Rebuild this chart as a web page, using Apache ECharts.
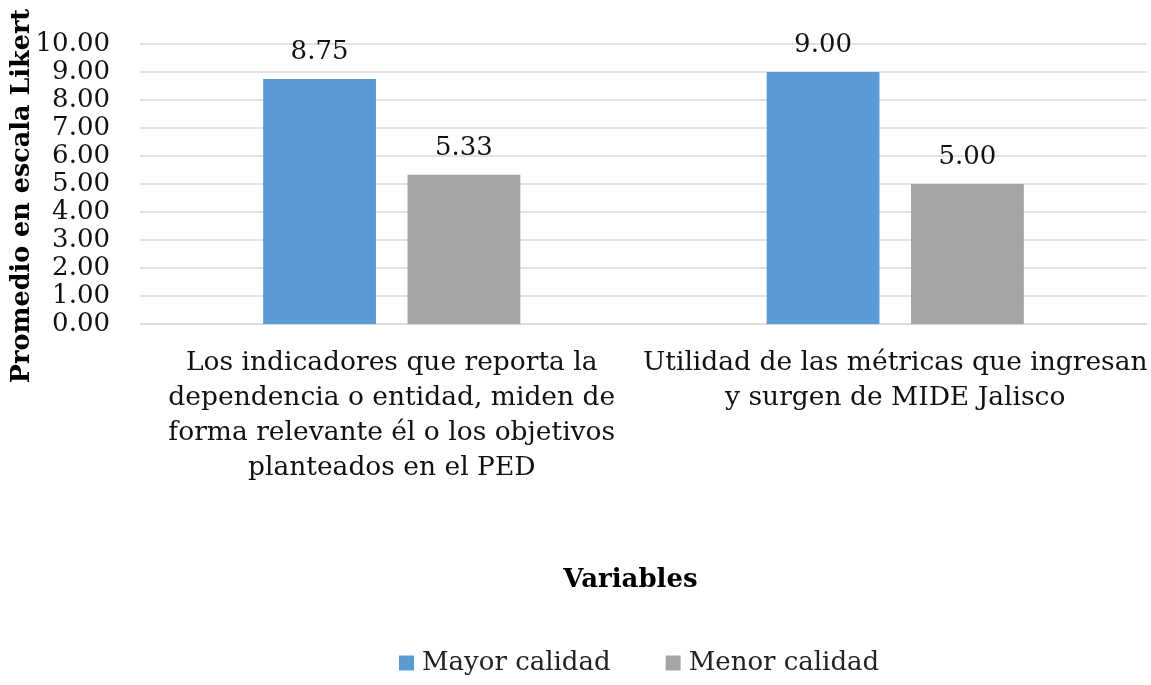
<!DOCTYPE html>
<html>
<head>
<meta charset="utf-8">
<script src="https://cdn.jsdelivr.net/npm/echarts@6/dist/echarts.min.js"></script>
<style>
  html, body { margin: 0; padding: 0; background: #fff; }
  #chart { width: 1151px; height: 685px; }
</style>
</head>
<body>
<div id="chart"></div>
<script>
// categories (line breaks as in the original labels)
var categories = [
  'Los indicadores que reporta la\ndependencia o entidad, miden de\nforma relevante él o los objetivos\nplanteados en el PED',
  'Utilidad de las métricas que ingresan\ny surgen de MIDE Jalisco'
]
var mayorCalidad = [8.75, 9.00]
var menorCalidad = [5.33, 5.00]
var seriesNames = ['Mayor calidad', 'Menor calidad']
var yTitle = 'Promedio en escala Likert'

var font = 'DejaVu Serif'
var chart = echarts.init(document.getElementById('chart'))

chart.setOption({
  animation: false,
  textStyle: { fontFamily: font, color: '#000' },
  grid: { left: 140, right: 4, top: 44, bottom: 361, outerBoundsMode: 'none', containLabel: false },
  // y axis title drawn as rotated text, axis name kept getting pushed to the edge
  graphic: [{
    type: 'text',
    x: 22,
    y: 196,
    rotation: Math.PI / 2,
    style: {
      text: yTitle,
      font: 'bold 25.5px "DejaVu Serif"',
      fill: '#000',
      align: 'center',
      verticalAlign: 'middle'
    }
  }],
  legend: {
    data: seriesNames,
    bottom: 4,
    left: 394,
    itemWidth: 15,
    itemHeight: 15,
    itemGap: 55,
    icon: 'rect',
    textStyle: { fontFamily: font, fontSize: 26, color: '#222', padding: [0, 0, 0, 3] }
  },
  xAxis: {
    type: 'category',
    data: categories,
    name: 'Variables',
    nameLocation: 'middle',
    nameGap: 243,
    nameMoveOverlap: false,
    nameTextStyle: { fontFamily: font, fontSize: 26, fontWeight: 'bold', color: '#000', padding: [0, 26, 0, 0] },
    axisLine: { lineStyle: { color: '#d9d9d9' } },
    axisTick: { show: false },
    axisLabel: {
      interval: 0,
      margin: 22,
      fontSize: 26.5,
      lineHeight: 35,
      color: '#111',
      fontFamily: font
    }
  },
  yAxis: {
    type: 'value',
    min: 0,
    max: 10,
    interval: 1,
    axisLine: { show: false },
    axisTick: { show: false },
    splitLine: { lineStyle: { color: '#d9d9d9', width: 1.5 } },
    axisLabel: {
      margin: 30,
      fontSize: 26,
      color: '#111',
      fontFamily: font,
      formatter: function (v) { return v.toFixed(2) }
    }
  },
  series: [
    {
      name: seriesNames[0],
      type: 'bar',
      data: mayorCalidad,
      barWidth: '22.4%',
      barGap: '28%',
      itemStyle: { color: '#5b9bd5' },
      label: {
        show: true, position: 'top', distance: 14,
        fontSize: 26, color: '#111', fontFamily: font,
        formatter: function (p) { return p.value.toFixed(2) }
      }
    },
    {
      name: seriesNames[1],
      type: 'bar',
      data: menorCalidad,
      barWidth: '22.4%',
      itemStyle: { color: '#a5a5a5' },
      label: {
        show: true, position: 'top', distance: 14,
        fontSize: 26, color: '#111', fontFamily: font,
        formatter: function (p) { return p.value.toFixed(2) }
      }
    }
  ]
})
</script>
</body>
</html>
